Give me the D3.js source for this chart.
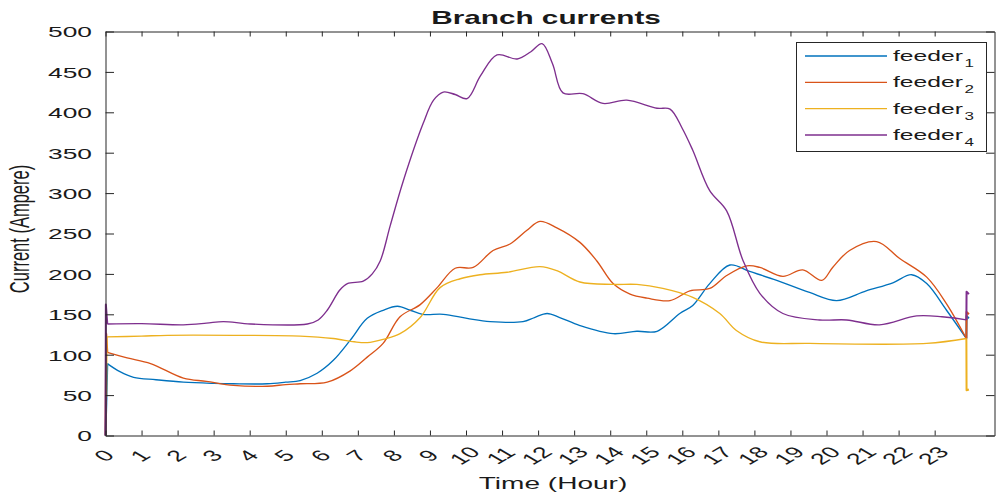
<!DOCTYPE html>
<html>
<head>
<meta charset="utf-8">
<script src="https://cdn.jsdelivr.net/npm/d3@7"></script>
<style>
  html, body { margin: 0; padding: 0; background: #fff; }
  svg { display: block; }
  text { font-family: "Liberation Sans", Arial, Helvetica, sans-serif; fill: #1a1a1a; }
</style>
</head>
<body>
<svg id="chart" width="996" height="492"></svg>
<script>
// Hour ticks and current readings (hour, ampere) for each feeder.
const hourTicks = d3.range(0, 24);
const currentTicks = d3.range(0, 501, 50);
const seriesNames = ["feeder", "feeder", "feeder", "feeder"];
const seriesIndex = ["1", "2", "3", "4"];
const seriesColors = ["#0072BD", "#D95319", "#EDB120", "#7E2F8E"];

const feeder1 = [[0.05,89],[0.4,79],[0.78,72],[1.4,69],[2.16,66],[3.0,64.5],[3.55,64],[4.49,64],[5.0,66],[5.4,68],[5.87,77],[6.32,93],[6.79,118],[7.26,145],[7.7,155],[8.1,160],[8.45,155],[8.8,150],[9.37,150],[10.03,145],[10.67,141],[11.58,141],[11.9,146],[12.25,151],[12.6,146],[13.16,136],[14.08,126],[14.74,129],[15.3,129],[15.93,151],[16.29,161],[16.76,188],[17.32,211],[17.87,203],[18.62,192],[19.53,177],[20.28,167],[21.1,179],[21.84,189],[22.36,199],[22.78,188],[23.33,155],[23.88,120]];
const feeder2 = [[0.05,103],[0.6,96],[1.25,89],[2.16,71],[2.8,67],[3.55,62],[4.49,61],[5.0,63],[5.4,64],[6.15,66],[6.79,80],[7.26,97],[7.7,114],[8.17,147],[8.73,162],[9.2,183],[9.7,207],[10.2,208],[10.75,229],[11.22,237],[11.69,254],[12.05,265],[12.52,257],[13.16,239],[13.63,216],[14.08,188],[14.55,175],[15.02,170],[15.66,167],[16.21,179],[16.76,182],[17.23,198],[17.79,210],[18.15,208],[18.79,197],[19.34,205],[19.87,192],[20.17,208],[20.64,229],[21.39,240],[22.03,219],[22.78,196],[23.33,163],[23.88,120]];
const feeder3 = [[0.03,122],[1.0,123],[1.72,124],[3.55,124],[5.4,123],[6.32,120],[6.9,116],[7.26,115],[7.7,119],[8.17,126],[8.73,146],[9.28,183],[9.84,194],[10.39,199],[11.14,202],[12.05,209],[12.52,204],[13.16,190],[14.08,187],[14.74,187],[15.46,182],[16.29,171],[17.04,151],[17.5,130],[18.15,116],[19.53,114],[22.78,114],[23.88,120]];
const feeder4 = [[0.05,138],[1.0,138.5],[2.16,137],[2.8,139],[3.27,141],[4.02,138],[5.6,138],[5.9,143],[6.15,155],[6.5,180],[6.71,188],[7.15,191],[7.4,200],[7.62,216],[7.9,260],[8.26,315],[8.81,386],[9.1,415],[9.37,425],[9.7,422],[10.03,417],[10.4,445],[10.86,471],[11.42,466],[11.8,475],[12.11,485],[12.4,460],[12.69,424],[13.24,423],[13.8,411],[14.46,415],[15.3,405],[15.66,404],[16.0,380],[16.29,353],[16.76,303],[17.23,278],[17.68,217],[18.15,176],[18.79,151],[19.81,143],[20.56,143],[21.47,137],[22.5,148],[23.2,147],[23.88,143]];

// Switching transients at the start and end of the day (drawn as straight segments).
const feeder1Start = [[0,0],[0.05,89]];
const feeder2Start = [[0,0],[0.02,126],[0.05,103]];
const feeder3Start = [[0.02,48],[0.03,122]];
const feeder4Start = [[0,0],[0.01,162],[0.05,138]];
const feeder1End = [[23.88,120],[23.885,148],[23.95,145]];
const feeder2End = [[23.88,120],[23.885,153],[23.95,150]];
const feeder3End = [[23.88,120],[23.885,56],[23.95,57]];
const feeder4End = [[23.88,143],[23.885,178],[23.95,175]];

const bodies = [feeder1, feeder2, feeder3, feeder4];
const starts = [feeder1Start, feeder2Start, feeder3Start, feeder4Start];
const ends = [feeder1End, feeder2End, feeder3End, feeder4End];

const svg = d3.select("#chart");
const SX = 1.7;           // horizontal stretch of the lettering
const axisColor = "#262626";

const x = d3.scaleLinear().domain([0, 24.66]).range([105.5, 994.5]);
const y = d3.scaleLinear().domain([0, 500]).range([435.5, 31.5]);

// plot area background
svg.append("rect")
  .attr("x", x.range()[0]).attr("y", y.range()[1])
  .attr("width", x.range()[1] - x.range()[0])
  .attr("height", y.range()[0] - y.range()[1])
  .attr("fill", "#fff");

// data lines
const smooth = d3.line().x(d => x(d[0])).y(d => y(d[1])).curve(d3.curveCatmullRom.alpha(0.5));
const straight = d3.line().x(d => x(d[0])).y(d => y(d[1]));
const lines = svg.append("g");
bodies.forEach((b, i) => {
  const g = lines.append("g")
    .attr("fill", "none").attr("stroke", seriesColors[i])
    .attr("stroke-width", 1.35).attr("stroke-linejoin", "round");
  g.append("path").attr("d", straight(starts[i])).attr("stroke-width", 2);
  g.append("path").attr("d", smooth(b));
  g.append("path").attr("d", straight(ends[i])).attr("stroke-width", 2);
});

// axes (ticks point inward, box around the plot)
function styleAxis(g) {
  g.select(".domain").attr("stroke", axisColor);
  g.selectAll(".tick line").attr("stroke", axisColor);
}
const gx = svg.append("g").attr("transform", `translate(0,${y(0)})`)
  .call(d3.axisBottom(x).tickValues(hourTicks).tickSize(-5).tickSizeOuter(0).tickFormat(d => d));
styleAxis(gx);
gx.selectAll(".tick text")
  .attr("x", 0).attr("y", 0).attr("dy", "0.35em")
  .attr("text-anchor", "middle")
  .attr("font-size", 15.5)
  .attr("fill", "#1a1a1a")
  .attr("transform", `translate(-2,20) scale(${SX},1) rotate(-45)`);

const gxTop = svg.append("g").attr("transform", `translate(0,${y(500)})`)
  .call(d3.axisTop(x).tickValues(hourTicks).tickSize(-5).tickSizeOuter(0).tickFormat(""));
styleAxis(gxTop);

const gy = svg.append("g").attr("transform", `translate(${x(0)},0)`)
  .call(d3.axisLeft(y).tickValues(currentTicks).tickSize(-8.5).tickSizeOuter(0));
styleAxis(gy);
gy.selectAll(".tick text")
  .attr("x", 0).attr("dy", "0.35em")
  .attr("text-anchor", "end")
  .attr("font-size", 15.5)
  .attr("fill", "#1a1a1a")
  .attr("transform", `translate(-13.5,0) scale(${SX},1)`);

const gyRight = svg.append("g").attr("transform", `translate(${x.range()[1]},0)`)
  .call(d3.axisRight(y).tickValues(currentTicks).tickSize(-8.5).tickSizeOuter(0).tickFormat(""));
styleAxis(gyRight);

svg.selectAll(".domain").attr("stroke-width", 1);

// title and axis labels
svg.append("text")
  .attr("transform", `translate(546,24) scale(${SX},1)`)
  .attr("text-anchor", "middle").attr("font-size", 17.5).attr("font-weight", "bold")
  .attr("fill", "#000")
  .text("Branch currents");

svg.append("text")
  .attr("transform", `translate(553,489) scale(${SX},1)`)
  .attr("text-anchor", "middle").attr("font-size", 16.5)
  .text("Time (Hour)");

svg.append("text")
  .attr("transform", `translate(29,229) scale(${SX},1) rotate(-90)`)
  .attr("text-anchor", "middle").attr("font-size", 16.5)
  .text("Current (Ampere)");

// legend
const legend = svg.append("g");
legend.append("rect")
  .attr("x", 796.5).attr("y", 42.5).attr("width", 190).attr("height", 109)
  .attr("fill", "#fff").attr("stroke", axisColor).attr("stroke-width", 1);
const rowY = d3.scalePoint().domain(seriesIndex).range([56, 135]);
seriesIndex.forEach((k, i) => {
  const cy = rowY(k);
  legend.append("line")
    .attr("x1", 805).attr("x2", 887).attr("y1", cy).attr("y2", cy)
    .attr("stroke", seriesColors[i]).attr("stroke-width", 1.3);
  const t = legend.append("text")
    .attr("transform", `translate(893,${cy + 5}) scale(${SX},1)`)
    .attr("font-size", 14.5);
  t.append("tspan").text(seriesNames[i]);
  t.append("tspan").attr("dy", 6).attr("dx", 1).attr("font-size", 10).text(k);
});
</script>
</body>
</html>
